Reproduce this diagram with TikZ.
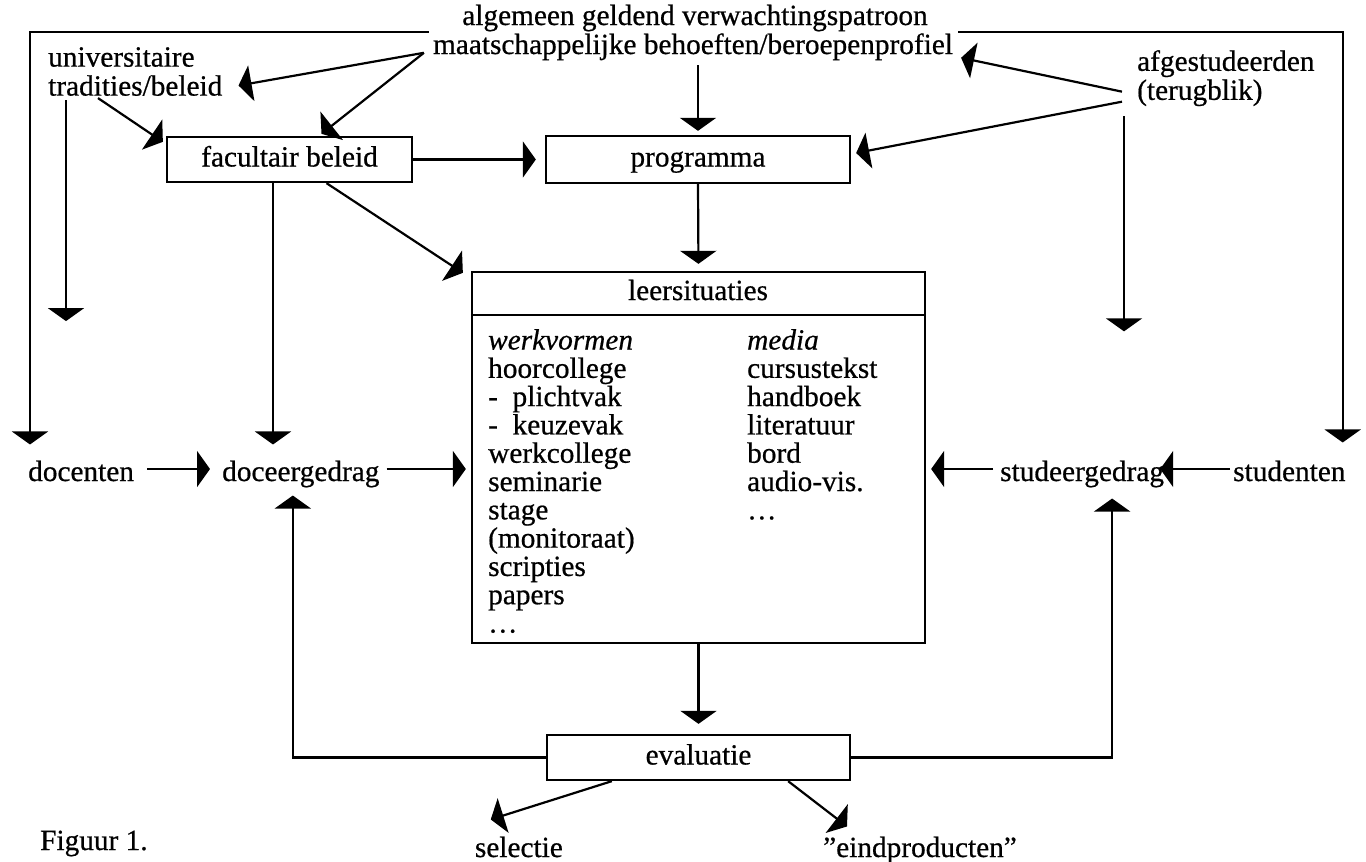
\documentclass[tikz,border=0pt]{standalone}
\usepackage{fontspec}
\setmainfont{Liberation Serif}[UprightFeatures={FakeBold=0.6},ItalicFeatures={FakeBold=0.6}]
\usetikzlibrary{arrows.meta,calc}
\tikzset{
  txt/.style={inner sep=0pt, font=\fontsize{29.3}{29}\selectfont},
  lst/.style={inner sep=0pt, align=left, font=\fontsize{29.3}{28.3}\selectfont},
  box/.style={draw, line width=2.3pt, inner sep=0pt, text height=20pt, text depth=6pt, font=\fontsize{29.3}{29}\selectfont},
  ln/.style={line width=2.2pt},
  arr/.style={line width=2.2pt, -{Triangle[length=13pt,width=36pt]}},
}
\begin{document}
\begin{tikzpicture}[x=1pt,y=-1pt]
\useasboundingbox (0,0) rectangle (1366,862);
\coordinate (frameY) at (0,32);
\coordinate (row) at (0,469);
\coordinate (dv) at (0,315);

% texts
\node[txt,anchor=base] (top1) at (695,25) {algemeen geldend verwachtingspatroon};
\node[txt,anchor=base] (top2) at (693,54) {maatschappelijke behoeften/beroepenprofiel};
\node[txt,anchor=north west,align=left] (univ) at (48,47) {universitaire\\tradities/beleid};
\node[txt,anchor=north west,align=left] (afg) at (1137,50) {afgestudeerden\\(terugblik)};

% boxes
\node[box, minimum width=245pt, minimum height=45pt] (fac) at (289.5,159.5) {facultair beleid};
\node[box, minimum width=304pt, minimum height=47pt] (prog) at (698,159.5) {programma};
\node[draw, line width=2.3pt, minimum width=453pt, minimum height=371pt] (leer) at (698.5,457.5) {};
\draw[line width=2.3pt] (leer.west |- dv) -- (leer.east |- dv);
\node[txt,anchor=base] (leertitle) at (698,300) {leersituaties};
\node[lst,anchor=north west] (werk) at (488,329) {\textit{werkvormen}\\hoorcollege\\-~~plichtvak\\-~~keuzevak\\werkcollege\\seminarie\\stage\\(monitoraat)\\scripties\\papers\\\ldots};
\node[lst,anchor=north west] (media) at (747,329) {\textit{media}\\cursustekst\\handboek\\literatuur\\bord\\audio-vis.\\\ldots};

% middle row
\node[txt,anchor=base west] (doc) at (28,481) {docenten};
\node[txt,anchor=base west] (dg) at (222,481) {doceergedrag};
\node[txt,anchor=base west] (sg) at (1000,481) {studeergedrag};
\node[txt,anchor=base west] (stu) at (1233,481) {studenten};

% bottom
\node[box, minimum width=303pt, minimum height=45pt] (eval) at (698.5,757.5) {evaluatie};
\node[txt,anchor=base east] (sel) at (563,857) {selectie};
\node[txt,anchor=base west] (eind) at (823,857) {''eindproducten''};
\node[txt,anchor=base west] (fig) at (40,850) {Figuur 1.};

% frame lines
\draw[arr] ([xshift=-4pt]top2.west |- frameY) -| ([xshift=2pt,yshift=16pt]doc.north west);
\draw[arr] ([xshift=5pt]top2.east |- frameY) -| ([xshift=-3pt,yshift=18pt]stu.north east);

% top connectors
\coordinate (tl) at ([xshift=-9pt,yshift=-6pt]top2.west);
\draw[arr,shorten <=5pt,shorten >=4pt] (top2.south -| prog.north) -- (prog.north);
\draw[arr] (tl) -- ([xshift=16pt,yshift=-14pt]univ.east);
\draw[arr] (tl) -- ([xshift=32pt,yshift=2pt]fac.north);
\draw[arr] ([xshift=50pt,yshift=-2pt]univ.south west) -- ([xshift=-3pt,yshift=-6pt]fac.north west);
\draw[arr] ([xshift=18pt,yshift=-4pt]univ.south west) -- ++(0,221);
\draw[arr] ([xshift=-15pt,yshift=-13.5pt]afg.west) -- ([xshift=8pt,yshift=-11pt]top2.east);
\draw[arr] ([xshift=-15pt,yshift=-23.5pt]afg.west) -- ([xshift=5pt,yshift=6.5pt]prog.east);
\draw[arr] ([xshift=-13pt,yshift=-10pt]afg.south west) -- ++(0,215);
\draw[arr,shorten >=9pt] (fac.east) -- (prog.west);
\coordinate (dgin) at ([xshift=51pt,yshift=16pt]dg.north west);
\draw[arr] (fac.south -| dgin) -- (dgin);
\draw[arr] ([xshift=37pt]fac.south) -- ([xshift=-8pt,yshift=-2pt]leer.north west);
\draw[arr,shorten >=7pt] (prog.south) -- (leer.north);

% middle row connectors
\draw[arr,shorten <=13pt,shorten >=12pt] (doc.east |- row) -- (dg.west |- row);
\draw[arr,shorten <=7pt,shorten >=5pt] (dg.east |- row) -- (leer.west |- row);
\draw[arr,shorten <=3pt,shorten >=-4pt] (stu.west |- row) -- (sg.east |- row);
\draw[arr,shorten <=7pt,shorten >=5pt] (sg.west |- row) -- (leer.east |- row);

% bottom connectors
\draw[arr,shorten >=10pt] (leer.south) -- (eval.north);
\draw[arr] (eval.west) -| ([xshift=-8pt,yshift=-8pt]dg.south);
\draw[arr] (eval.east) -| ([xshift=30pt,yshift=-11pt]sg.south);
\draw[arr] ([xshift=66pt]eval.south west) -- ([xshift=16pt,yshift=17pt]sel.north west);
\draw[arr] ([xshift=-63pt]eval.south east) -- ([xshift=24pt,yshift=10pt]eind.north west);
\end{tikzpicture}
\end{document}
